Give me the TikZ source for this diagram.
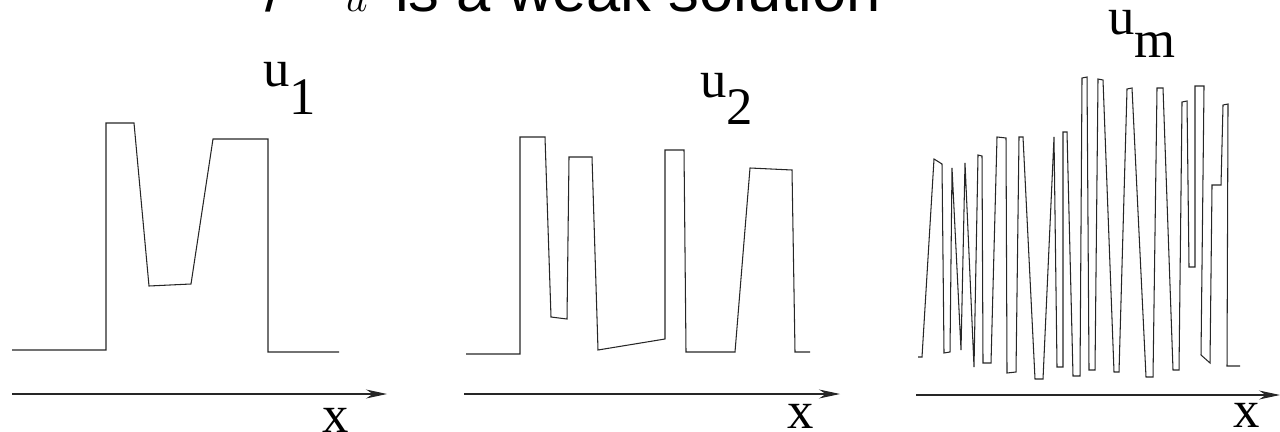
\documentclass[tikz,border=0pt]{standalone}
\usepackage{fontspec}
\setmainfont{Liberation Serif}
\newfontfamily\headsans{Liberation Sans}
\usetikzlibrary{arrows.meta}
\tikzset{
    graph/.style={draw=black!85, line width=0.6pt, line join=miter},
    axis/.style={-{Stealth[length=4.2mm,width=1.8mm]}, draw=black!85, line width=0.6pt},
    lbl/.style={anchor=base west, inner sep=0pt, font=\fontsize{30}{36}\selectfont},
    head/.style={anchor=base west, inner sep=0pt, font=\headsans\fontsize{35}{42}\selectfont}
}
\newcommand{\sublbl}[2][0.55cm]{u\raisebox{-#1}{#2}}

\begin{document}
\begin{tikzpicture}[x=0.02cm, y=-0.02cm]
\useasboundingbox (0,0) rectangle (1280,432);

% heading, cut off at the top edge
\node[head] (head) at (265,12) {/\hspace{1.22cm}$u$\hspace{0.55cm}is a weak solution};

% first function
\draw[graph] (12,350) -- (106,350) -- (106,123) -- (134,123) -- (149,286) -- (191,284)
    -- (213,139) -- (268,139) -- (268,352) -- (339,352);
\coordinate (ax1s) at (12,394);
\coordinate (ax1e) at (387,394);
\draw[axis] (ax1s) -- (ax1e);
\node[lbl] (u1) at (263,87) {\sublbl[0.56cm]{1}};
\node[lbl] (x1) at (322,432) {x};

% second function
\draw[graph] (466,354) -- (520,354) -- (520,137) -- (545,137) -- (551,317) -- (567,319)
    -- (569,157) -- (592,157) -- (598,350) -- (665,339) -- (665,150) -- (684,150)
    -- (686,352) -- (735,352) -- (750,168) -- (792,170) -- (795,352) -- (810,352);
\coordinate (ax2s) at (464,394);
\coordinate (ax2e) at (840,394);
\draw[axis] (ax2s) -- (ax2e);
\node[lbl] (u2) at (700,98) {\sublbl[0.54cm]{2}};
\node[lbl] (x2) at (787,428) {x};

% m-th function
\draw[graph] (918,357) -- (922,357) -- (934,159) -- (942,164) -- (944,353) -- (950,352)
    -- (952,168) -- (961,350) -- (965,163) -- (974,367) -- (978,155) -- (982,156)
    -- (983,363) -- (991,363) -- (997,137) -- (1006,138) -- (1007,373) -- (1016,372)
    -- (1019,137) -- (1023,137) -- (1035,379) -- (1043,379) -- (1054,137) -- (1057,367)
    -- (1063,367) -- (1063,132) -- (1067,132) -- (1073,376) -- (1080,376) -- (1082,78)
    -- (1087,77) -- (1089,370) -- (1095,370) -- (1098,79) -- (1103,80) -- (1114,372)
    -- (1119,372) -- (1127,89) -- (1132,88) -- (1146,377) -- (1153,377) -- (1157,88)
    -- (1163,88) -- (1173,370) -- (1179,370) -- (1182,102) -- (1187,101) -- (1189,267)
    -- (1195,267) -- (1195,86) -- (1204,86) -- (1201,355) -- (1210,363) -- (1212,185)
    -- (1221,185) -- (1223,105) -- (1228,104) -- (1227,366) -- (1240,366);
\coordinate (ax3s) at (916,395);
\coordinate (ax3e) at (1280,395);
\draw[axis] (ax3s) -- (ax3e);
\node[lbl] (um) at (1108,35) {\sublbl[0.46cm]{m}};
\node[lbl] (x3) at (1233,427) {x};
\end{tikzpicture}
\end{document}
